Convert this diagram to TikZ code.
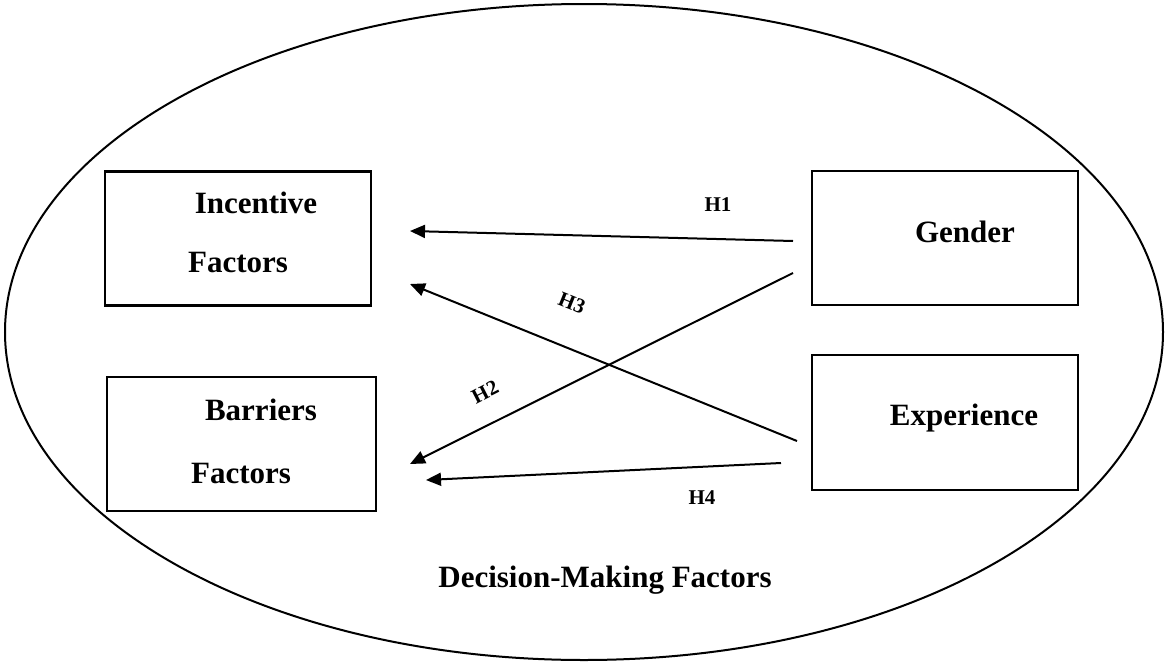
\documentclass[tikz,border=0pt]{standalone}
\usepackage{fontspec}
\setmainfont{Liberation Serif}
\usetikzlibrary{arrows.meta}
\begin{document}
\begin{tikzpicture}[x=1pt,y=-1pt,
  box/.style={draw,line width=2.4pt,minimum width=266pt,minimum height=134pt,inner sep=0pt},
  lbl/.style={font=\fontsize{31}{36}\selectfont\bfseries,anchor=base,inner sep=0pt},
  hlbl/.style={font=\fontsize{21}{24}\selectfont\bfseries,inner sep=0pt},
  arr/.style={line width=2pt,-{Triangle[length=15pt,width=13pt]}}]
\useasboundingbox (0,0) rectangle (1168,664);
\draw[line width=2pt] (584,332) ellipse [x radius=579, y radius=328];
% boxes
\node[box] (inc) at (238,238.5) {};
\node[box,minimum width=269pt] (bar) at (241.5,444) {};
\node[box] (gen) at (945,238) {};
\node[box,minimum height=135pt] (exp) at (945,422.5) {};
% box texts
\node[lbl] (inc1) at (256,213) {Incentive};
\node[lbl] (inc2) at (238,272) {Factors};
\node[lbl] (bar1) at (261,420) {Barriers};
\node[lbl] (bar2) at (241,483) {Factors};
\node[lbl] (gen1) at (965,242) {Gender};
\node[lbl] (exp1) at (964,425) {Experience};
\node[lbl] (dmf) at (605,587) {Decision-Making Factors};
% arrow endpoints
\coordinate (h1s) at (793,241);
\coordinate (h1e) at (410,231);
\coordinate (h2s) at (793,273);
\coordinate (h2e) at (410,464);
\coordinate (h3s) at (797,441);
\coordinate (h3e) at (410,284);
\coordinate (h4s) at (781,463);
\coordinate (h4e) at (426,480);
\draw[arr] (h1s) -- (h1e);
\draw[arr] (h2s) -- (h2e);
\draw[arr] (h3s) -- (h3e);
\draw[arr] (h4s) -- (h4e);
% hypothesis labels
\node[hlbl] (lh1) at (718,205) {H1};
\node[hlbl,rotate=-22] (lh3) at (572,303) {H3};
\node[hlbl,rotate=27] (lh2) at (485,392) {H2};
\node[hlbl] (lh4) at (702,498) {H4};
\end{tikzpicture}
\end{document}
